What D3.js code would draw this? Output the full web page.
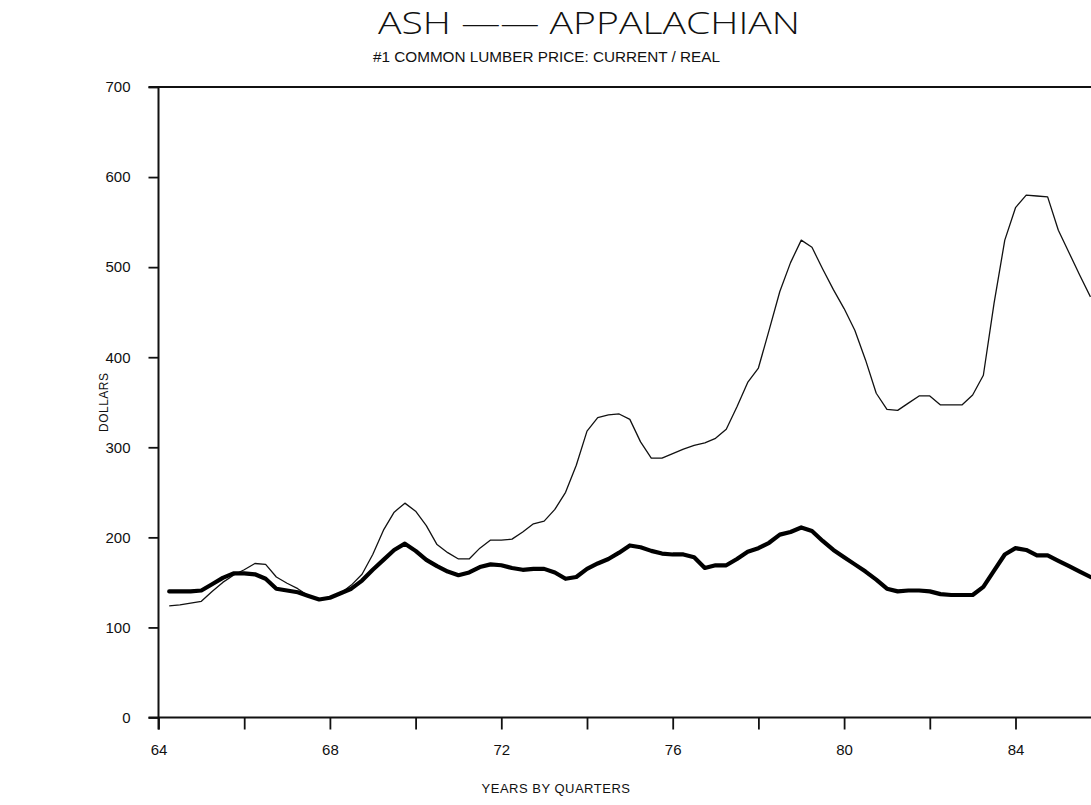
<!DOCTYPE html>
<html>
<head>
<meta charset="utf-8">
<script src="https://cdn.jsdelivr.net/npm/d3@7"></script>
<style>
  html, body { margin: 0; padding: 0; background: #fff; }
  svg { display: block; }
  text { fill: #111; }
</style>
</head>
<body>
<svg id="chart" width="1091" height="805"></svg>
<script>
// Quarter positions (decimal years, 19xx)
const quarters = [
  64.25, 64.5, 64.75, 65.0, 65.25, 65.5, 65.75, 66.0, 66.25, 66.5, 66.75,
  67.0, 67.25, 67.5, 67.75, 68.0, 68.25, 68.5, 68.75, 69.0, 69.25, 69.5, 69.75,
  70.0, 70.25, 70.5, 70.75, 71.0, 71.25, 71.5, 71.75, 72.0, 72.25, 72.5, 72.75,
  73.0, 73.25, 73.5, 73.75, 74.0, 74.25, 74.5, 74.75, 75.0, 75.25, 75.5, 75.75,
  76.0, 76.25, 76.5, 76.75, 77.0, 77.25, 77.5, 77.75, 78.0, 78.25, 78.5, 78.75,
  79.0, 79.25, 79.5, 79.75, 80.0, 80.25, 80.5, 80.75, 81.0, 81.25, 81.5, 81.75,
  82.0, 82.25, 82.5, 82.75, 83.0, 83.25, 83.5, 83.75, 84.0, 84.25, 84.5, 84.75,
  85.0, 85.25, 85.5, 85.75
];

// Current-dollar price, $ per MBF
const currentPrice = [
  124, 125, 127, 129, 140, 150, 158, 164, 171, 170, 156,
  149, 143, 135, 130, 133, 138, 147, 159, 181, 208, 228, 238,
  229, 213, 192, 183, 176, 176, 188, 197, 197, 198, 206, 215,
  218, 231, 250, 280, 318, 333, 336, 337, 331, 306, 288, 288,
  293, 298, 302, 305, 310, 320, 345, 372, 388, 430, 473, 505,
  530, 522, 498, 475, 454, 430, 397, 360, 342, 341, 349, 357,
  357, 347, 347, 347, 358, 380, 460, 530, 566, 580, 579, 578,
  541, 516, 491, 467
];

// Real (deflated) price, $ per MBF
const realPrice = [
  140, 140, 140, 141, 148, 155, 160, 160, 159, 154, 143,
  141, 139, 135, 131, 133, 138, 143, 152, 164, 175, 186, 193,
  185, 175, 168, 162, 158, 161, 167, 170, 169, 166, 164, 165,
  165, 161, 154, 156, 165, 171, 176, 183, 191, 189, 185, 182,
  181, 181, 178, 166, 169, 169, 176, 184, 188, 194, 203, 206,
  211, 207, 196, 186, 178, 170, 162, 153, 143, 140, 141, 141,
  140, 137, 136, 136, 136, 145, 163, 181, 188, 186, 180, 180,
  174, 168, 162, 156
];

const yTicks = [0, 100, 200, 300, 400, 500, 600, 700];
const xTicks = [64, 66, 68, 70, 72, 74, 76, 78, 80, 82, 84];
const xLabelYears = [64, 68, 72, 76, 80, 84];

const titleText = "ASH \u2014\u2014 APPALACHIAN";
const subtitleText = "#1 COMMON LUMBER PRICE: CURRENT / REAL";
const yTitle = "DOLLARS";
const xTitle = "YEARS BY QUARTERS";

const W = 1091, H = 805;
const svg = d3.select("#chart");
const font = "'Liberation Sans', 'DejaVu Sans', sans-serif";

const x = d3.scaleLinear().domain([64, 84]).range([158.5, 1015.5]);
const y = d3.scaleLinear().domain([0, 700]).range([717.5, 87]);

// Frame: left axis, bottom axis, top rule
const frame = svg.append("g").attr("stroke", "#111").attr("fill", "none");
frame.append("line")
  .attr("x1", x(64)).attr("x2", x(64))
  .attr("y1", y(700)).attr("y2", y(0) + 12)
  .attr("stroke-width", 2);
frame.append("line")
  .attr("x1", x(64) - 10).attr("x2", W)
  .attr("y1", y(0)).attr("y2", y(0))
  .attr("stroke-width", 2);
frame.append("line")
  .attr("x1", x(64) - 10).attr("x2", W)
  .attr("y1", y(700)).attr("y2", y(700))
  .attr("stroke-width", 2);

// Y axis ticks and labels
const yAxis = d3.axisLeft(y)
  .tickValues(yTicks)
  .tickSize(10)
  .tickPadding(18)
  .tickFormat(d3.format("d"));
const gy = svg.append("g")
  .attr("transform", `translate(${x(64)},0)`)
  .call(yAxis);
gy.select(".domain").remove();
gy.selectAll(".tick line").attr("stroke", "#111").attr("stroke-width", 1.8);
gy.selectAll(".tick text")
  .attr("font-family", font).attr("font-size", 15).attr("fill", "#111");

// X axis ticks and labels
const xAxis = d3.axisBottom(x)
  .tickValues(xTicks)
  .tickSize(12)
  .tickPadding(15)
  .tickFormat(d => xLabelYears.includes(d) ? String(d) : "");
const gx = svg.append("g")
  .attr("transform", `translate(0,${y(0)})`)
  .call(xAxis);
gx.select(".domain").remove();
gx.selectAll(".tick line").attr("stroke", "#111").attr("stroke-width", 1.8);
gx.selectAll(".tick text")
  .attr("font-family", font).attr("font-size", 15).attr("fill", "#111");

// Price series
const line = d3.line()
  .x((d, i) => x(quarters[i]))
  .y(d => y(d))
  .curve(d3.curveLinear);

svg.append("path")
  .datum(currentPrice)
  .attr("d", line)
  .attr("fill", "none")
  .attr("stroke", "#111")
  .attr("stroke-width", 1.3)
  .attr("stroke-linejoin", "round");

svg.append("path")
  .datum(realPrice)
  .attr("d", line)
  .attr("fill", "none")
  .attr("stroke", "#000")
  .attr("stroke-width", 4.2)
  .attr("stroke-linejoin", "round")
  .attr("stroke-linecap", "round");

// Titles (wide, thin lettering)
svg.append("text")
  .attr("x", 378).attr("y", 34)
  .attr("font-family", "'Open Sans', 'Liberation Sans', sans-serif")
  .attr("font-weight", 300)
  .attr("font-size", 32)
  .attr("textLength", 422)
  .attr("lengthAdjust", "spacingAndGlyphs")
  .text(titleText);

svg.append("text")
  .attr("x", 373).attr("y", 62)
  .attr("font-family", font)
  .attr("font-size", 14)
  .attr("textLength", 347)
  .attr("lengthAdjust", "spacingAndGlyphs")
  .text(subtitleText);

svg.append("text")
  .attr("transform", `translate(108,${(y(0) + y(700)) / 2}) rotate(-90)`)
  .attr("text-anchor", "middle")
  .attr("font-family", font)
  .attr("font-size", 12)
  .attr("letter-spacing", 0.5)
  .text(yTitle);

svg.append("text")
  .attr("x", 556).attr("y", 793)
  .attr("text-anchor", "middle")
  .attr("font-family", font)
  .attr("font-size", 13)
  .attr("letter-spacing", 0.5)
  .text(xTitle);
</script>
</body>
</html>
